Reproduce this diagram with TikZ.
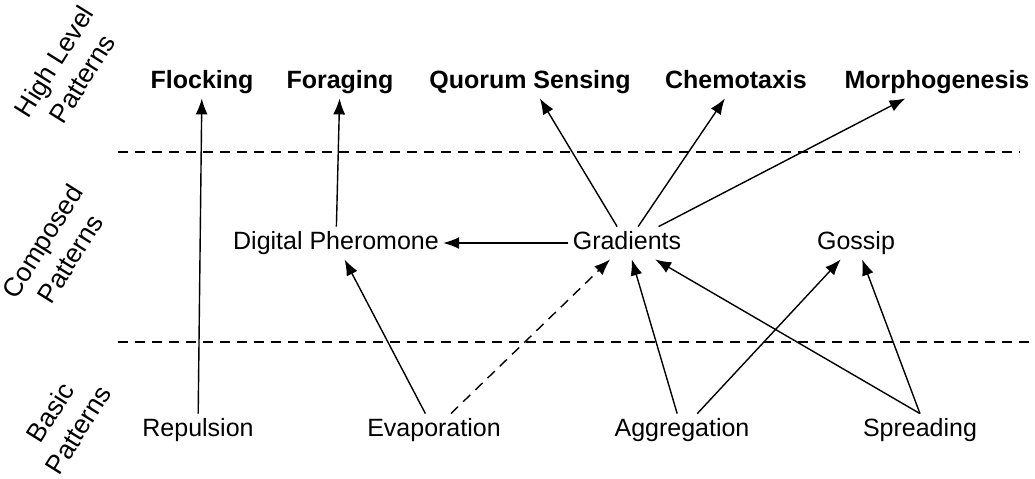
\documentclass[tikz,border=0pt]{standalone}
\usepackage{fontspec}
\setmainfont{Liberation Sans}
\usetikzlibrary{arrows.meta}
\begin{document}
\begin{tikzpicture}[x=0.5pt,y=-0.5pt,
    pat/.style={font=\fontsize{12.5}{14}\selectfont,inner sep=2pt,
      text height=9pt,text depth=3pt},
    toppat/.style={pat,font=\fontsize{12.5}{14}\selectfont\bfseries},
    level/.style={font=\fontsize{13.2}{16.5}\selectfont,align=center,rotate=58},
    link/.style={line width=0.7pt,-{Latex[length=8pt,width=6pt]}},
    sep/.style={line width=0.6pt,dash pattern=on 5pt off 3.5pt}]
  \useasboundingbox (0,0) rectangle (1035,478);
  % levels
  \node[level] (lvlhigh) at (68,70) {High Level\\Patterns};
  \node[level] (lvlcomp) at (56,250) {Composed\\Patterns};
  \node[level] (lvlbasic) at (64,421) {Basic\\Patterns};
  \draw[sep] (118,152) -- (1020,152);
  \draw[sep] (118,342) -- (1035,342);
  % high level patterns
  \node[toppat] (flock) at (202,82) {Flocking};
  \node[toppat] (forag) at (340,82) {Foraging};
  \node[toppat] (quorum) at (530,82) {Quorum Sensing};
  \node[toppat] (chemo) at (736,82) {Chemotaxis};
  \node[toppat] (morpho) at (937,82) {Morphogenesis};
  % composed patterns
  \node[pat] (pher) at (336,243) {Digital Pheromone};
  \node[pat] (grad) at (627,243) {Gradients};
  \node[pat] (gossip) at (856,243) {Gossip};
  % basic patterns
  \node[pat] (repul) at (198,430) {Repulsion};
  \node[pat] (evap) at (434,430) {Evaporation};
  \node[pat] (aggr) at (682,430) {Aggregation};
  \node[pat] (spread) at (920,430) {Spreading};
  % links
  \draw[link] (repul) -- (flock);
  \draw[link] (pher) -- (forag);
  \draw[link] (grad) -- (quorum);
  \draw[link] (grad) -- (chemo);
  \draw[link] (grad) -- (morpho);
  \draw[link] (grad) -- (pher);
  \draw[link] (evap) -- (pher);
  \draw[link,dash pattern=on 5pt off 3.5pt] (evap) -- (grad);
  \draw[link] (aggr) -- (grad);
  \draw[link] (aggr) -- (gossip);
  \draw[link] (spread.north) -- (grad);
  \draw[link] (spread.north) -- (gossip);
\end{tikzpicture}
\end{document}
